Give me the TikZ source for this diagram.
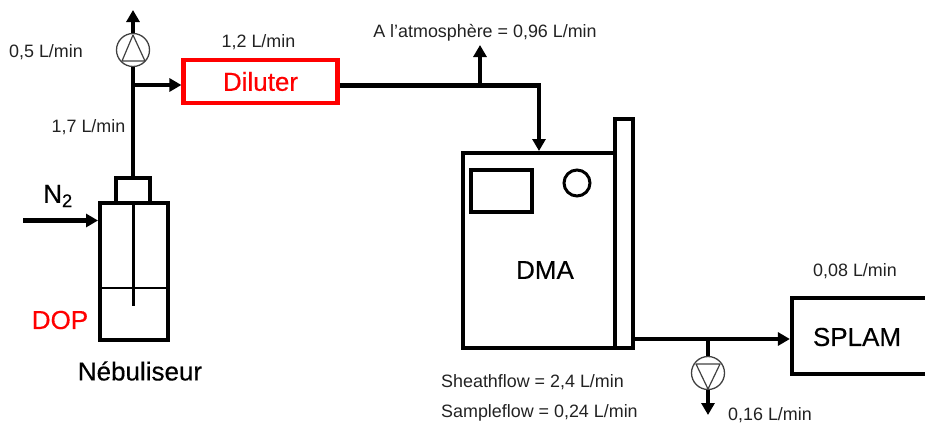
\documentclass[tikz,border=0pt]{standalone}
\usepackage{fontspec}
\setmainfont{Liberation Sans}
\newfontfamily\headfont[FakeBold=0.35]{Liberation Sans}
\usetikzlibrary{arrows.meta,positioning,calc}
\definecolor{labgray}{HTML}{222222}
\begin{document}
\begin{tikzpicture}[
  x=1pt,y=-1pt,
  box/.style={draw,line width=4.2pt,inner sep=0pt,font=\headfont\fontsize{26}{30}\selectfont},
  vessel/.style={draw,line width=4pt,inner sep=0pt},
  pump/.style={draw,circle,line width=1.3pt,color=black!75,minimum size=33pt,inner sep=0pt},
  rate/.style={font=\fontsize{17.9}{20}\selectfont,color=labgray,inner sep=0pt},
  bigtext/.style={font=\headfont\fontsize{26}{30}\selectfont,inner sep=0pt},
  pipe/.style={line width=4.2pt},
  arr/.style={pipe,-{Triangle[length=12pt,width=13pt]}},
  thinblade/.style={line width=1.2pt,color=black!75},
]
  \useasboundingbox (0,0) rectangle (925,423);

  % Nebuliser
  \node[vessel,minimum width=68pt,minimum height=137pt] (neb) at (134,271.5) {};
  \node[vessel,minimum width=34pt,minimum height=25pt] (cap) at (133,190.5) {};
  \coordinate (tube) at (133,306);
  \draw[line width=3pt] (neb.north -| cap) -- (tube);
  \draw[line width=1.2pt] (neb.west |- 0,288) -- (neb.east |- 0,288);
  \node[bigtext] (nitro) at (58,196) {N\textsubscript{2}};
  \coordinate (gas) at (23,220.5);
  \draw[arr] (gas) -- (gas -| neb.west);
  \node[bigtext,color=red] (dop) at (60,320) {DOP};
  \node[bigtext] (neblabel) at (140,371) {Nébuliseur};

  % Upper pump
  \node[pump] (pumpa) at (133,50) {};
  \draw[thinblade,line join=round] (122,61) -- (133,35) -- (145,61) -- cycle;
  \coordinate (vent) at (133,10);
  \draw[arr] (pumpa) -- (vent);
  \draw[pipe] (cap) -- (pumpa);

  % Diluter
  \node[box,color=red,minimum width=154pt,minimum height=43pt] (diluter) at (260.5,81.5) {Diluter};
  \coordinate (split) at (133,85);
  \draw[arr] (split) -- (split -| diluter.west);

  % DMA
  \node[vessel,minimum width=152pt,minimum height=195pt] (dma) at (539,250.5) {};
  \node[vessel,minimum width=18pt,minimum height=229pt] (column) at (624,233.5) {};
  \node[vessel,minimum width=61pt,minimum height=42pt] (screen) at (501.5,191) {};
  \node[draw,circle,line width=3pt,minimum size=26pt,inner sep=0pt] (knob) at (577,183) {};
  \node[bigtext] (dmalabel) at (545,270) {DMA};

  % Diluter to DMA
  \coordinate (corner) at (539,85.5);
  \coordinate (tee) at (480,85.5);
  \coordinate (atmo) at (480,45);
  \draw[pipe,-{Triangle[length=12pt,width=13pt]}] (diluter.east |- corner) -- (corner) -- (dma.north -| corner);
  \draw[arr] (tee) -- (atmo);

  % SPLAM
  \node[box,minimum width=140pt,minimum height=76pt] (splam) at (862,336) {};
  \node[bigtext] (splamlabel) at (857,337) {SPLAM};
  \coordinate (outlet) at (633,339);
  \draw[arr] (outlet) -- (outlet -| splam.west);

  % Lower pump
  \node[pump] (pumpb) at (708,373) {};
  \draw[thinblade,line join=round] (696,364) -- (708,389) -- (720,364) -- cycle;
  \coordinate (tap) at (708,339);
  \coordinate (drain) at (708,415);
  \draw[pipe] (tap) -- (pumpb);
  \draw[arr] (pumpb) -- (drain);

  % Flow rates
  \node[rate] (r05) at (46,52) {0,5 L/min};
  \node[rate] (r17) at (88.5,127) {1,7 L/min};
  \node[rate] (r12) at (258.5,42) {1,2 L/min};
  \node[rate] (ratm) at (485,33) {A l'atmosphère = 0,96 L/min};
  \node[rate] (r008) at (855,271) {0,08 L/min};
  \node[rate] (r016) at (770,415) {0,16 L/min};
  \node[rate,anchor=west] (sheath) at (441,382) {Sheathflow = 2,4 L/min};
  \node[rate,anchor=west] (sample) at (441,413) {Sampleflow = 0,24 L/min};
\end{tikzpicture}
\end{document}
